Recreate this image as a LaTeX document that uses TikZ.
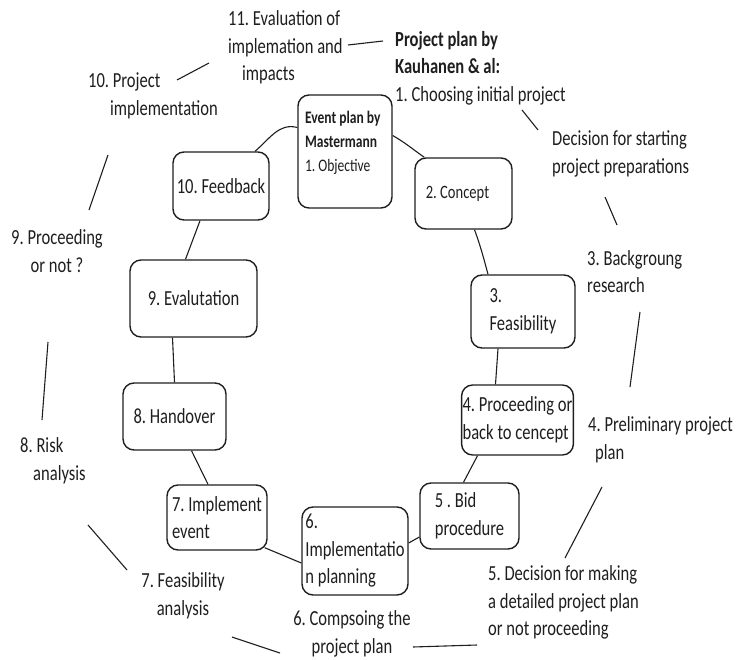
\documentclass[tikz,border=0pt]{standalone}
\usepackage{fontspec}
\setmainfont{Carlito}[FakeStretch=0.77]
\definecolor{ink}{HTML}{1E1E1E}
\tikzset{
  lbl/.style={text=ink, inner sep=0pt, font=\fontsize{21.5pt}{27.5pt}\selectfont\frenchspacing},
  stage/.style={draw=ink, line width=1.4pt, rounded corners=11pt, inner sep=1pt,
    align=left, text=ink, font=\fontsize{21.5pt}{27.5pt}\selectfont\frenchspacing},
  link/.style={draw=ink, line width=1.1pt},
  outer/.style={draw=ink, line width=1.1pt},
}
\begin{document}
\frenchspacing
\begin{tikzpicture}[x=1pt,y=-1pt]
\useasboundingbox (0,0) rectangle (741,660);

% ---- Event plan by Mastermann (inner cycle) ----
\node[stage, inner sep=0pt, minimum width=94pt, minimum height=113pt] (ev) at (345,151.5)
  {\parbox[c][113pt][t]{94pt}{\leftskip=7pt\fontsize{17.6pt}{24pt}\selectfont\vspace*{16pt}\textbf{Event plan by}\\\textbf{Mastermann}\\1. Objective}};
\node[stage, minimum width=97pt, minimum height=71pt, font=\fontsize{18.9pt}{24pt}\selectfont\frenchspacing] (cn) at (463.5,193.5) {2. Concept\hspace*{12pt}};
\node[stage, minimum width=104pt, minimum height=73pt] (fs) at (523,311.5) {3.\\Feasibility};
\node[stage, minimum width=111pt, minimum height=70pt] (p4) at (517.5,420) {4. Proceeding or\\back to cencept};
\node[stage, minimum width=99pt, minimum height=66pt] (b5) at (469.5,516) {5 . Bid\\procedure};
\node[stage, minimum width=106pt, minimum height=88pt] (i6) at (355,551) {6.\\Implementatio\\n planning};
\node[stage, minimum width=100pt, minimum height=65pt] (i7) at (217,517.5) {7. Implement\\event};
\node[stage, minimum width=103pt, minimum height=67pt] (h8) at (174.5,416.5) {8. Handover};
\node[stage, minimum width=127pt, minimum height=77pt] (e9) at (193.5,298.5) {9. Evalutation};
\node[stage, minimum width=96pt, minimum height=68pt] (fb) at (221,186) {10. Feedback};

\draw[link] ([yshift=24pt]ev.west) to[out=165,in=40] ([xshift=34pt]fb.north);
\draw[link] ([yshift=16pt]ev.east) to[out=-30,in=145] ([xshift=10pt]cn.north west);
\draw[link] ([xshift=11pt]cn.south) to[out=-70,in=105] ([xshift=-35pt]fs.north);
\draw[link] ([xshift=-25pt]fs.south) -- ([xshift=-22pt]p4.north);
\draw[link] ([xshift=-40pt]p4.south) -- ([xshift=-6pt]b5.north);
\draw[link] ([yshift=-21pt]b5.west) -- ([yshift=8pt]i6.east);
\draw[link] ([xshift=-3pt,yshift=3pt]i7.south east) -- ([yshift=-12pt]i6.west);
\draw[link] ([xshift=17pt]h8.south) -- ([xshift=-9pt]i7.north);
\draw[link] ([xshift=-21pt]e9.south) -- (h8.north);
\draw[link] ([xshift=-21pt]fb.south) -- ([xshift=-8pt]e9.north);

% ---- Project plan by Kauhanen & al (outer cycle) ----
\node[lbl, align=left, anchor=west] (l11) at (228,47.5) {11. Evaluation of\\implemation and\\\hspace*{14pt}impacts};
\node[lbl, align=left, anchor=west] (lpp) at (395,68) {\textbf{Project plan by}\\\textbf{Kauhanen \& al:}\\1. Choosing initial project};
\node[lbl, align=left, anchor=west] (ldec) at (552,154) {Decision for starting\\project preparations};
\node[lbl, align=left, anchor=west] (l3) at (587,271.5) {3. Backgroung\\research};
\node[lbl, align=left, anchor=west] (l4) at (588,440) {4. Preliminary project\\\hspace*{7pt}plan};
\node[lbl, align=left, anchor=west] (l5) at (488,602.5) {5. Decision for making\\a detailed project plan\\or not proceeding};
\node[lbl, align=center] (l6) at (352,634) {6. Compsoing the\\project plan};
\node[lbl, align=center] (l7) at (183,596) {7. Feasibility\\analysis};
\node[lbl, align=left, anchor=west] (l8) at (20,461) {8. Risk\\\hspace*{13pt}analysis};
\node[lbl, align=center] (l9) at (57,251) {9. Proceeding\\or not ?};
\node[lbl, align=left, anchor=west] (l10) at (88,96) {10. Project\\\hspace*{22pt}implementation};

\coordinate (o1a) at (177,80);  \coordinate (o1b) at (209,63);
\coordinate (o2a) at (348,45);  \coordinate (o2b) at (383,41);
\coordinate (o3a) at (522,110); \coordinate (o3b) at (538,130);
\coordinate (o4a) at (605,197); \coordinate (o4b) at (617,225);
\coordinate (o5a) at (640,312); \coordinate (o5b) at (630,387);
\coordinate (o6a) at (602,487); \coordinate (o6b) at (565,558);
\coordinate (o7a) at (477,645); \coordinate (o7b) at (413,647);
\coordinate (o8a) at (280,653); \coordinate (o8b) at (232,637);
\coordinate (o9a) at (127,570); \coordinate (o9b) at (88,525);
\coordinate (o10a) at (42,420); \coordinate (o10b) at (48,342);
\coordinate (o11a) at (89,210); \coordinate (o11b) at (108,155);

\draw[outer] (o1a) -- (o1b);
\draw[outer] (o2a) -- (o2b);
\draw[outer] (o3a) -- (o3b);
\draw[outer] (o4a) -- (o4b);
\draw[outer] (o5a) -- (o5b);
\draw[outer] (o6a) -- (o6b);
\draw[outer] (o7a) -- (o7b);
\draw[outer] (o8a) -- (o8b);
\draw[outer] (o9a) -- (o9b);
\draw[outer] (o10a) -- (o10b);
\draw[outer] (o11a) -- (o11b);
\end{tikzpicture}
\end{document}
